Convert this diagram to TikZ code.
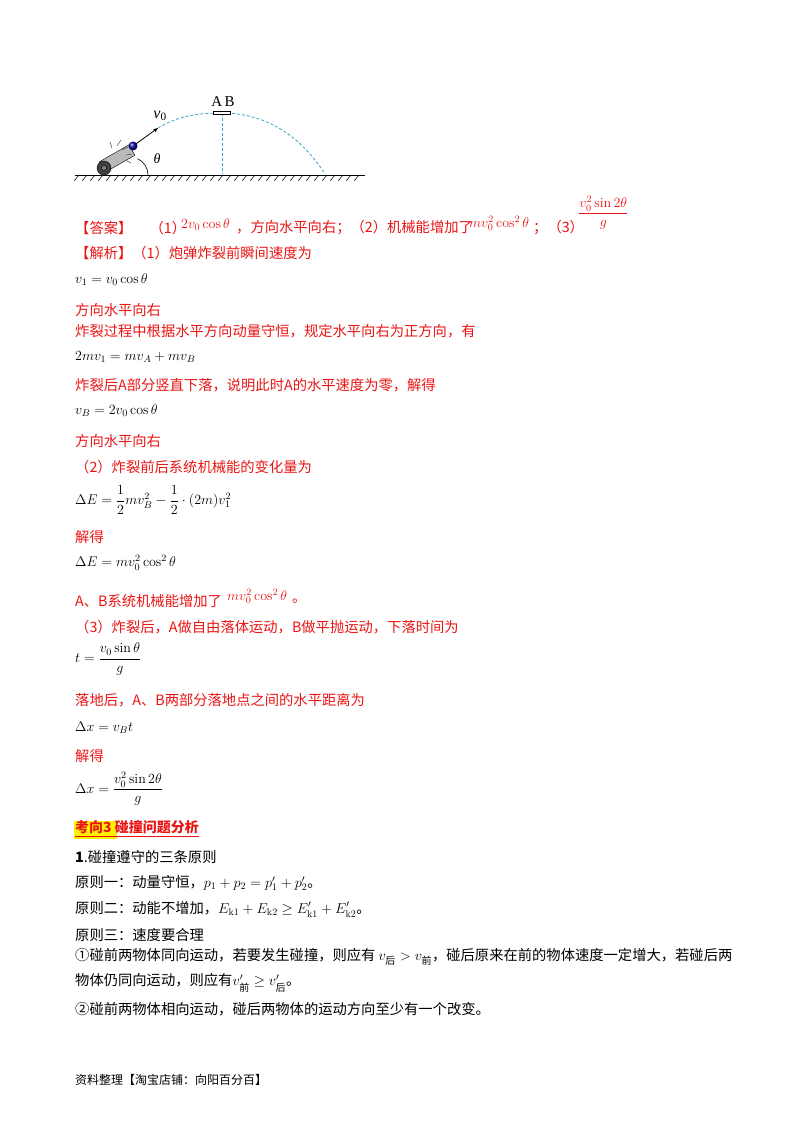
\RequirePackage{fix-cm}
\documentclass[tikz,border=0pt]{standalone}
\usepackage{fontspec}
\usepackage{amsmath}
\newfontfamily\cjk{Noto Sans CJK SC}
\newfontfamily\tnr{Liberation Serif}
\usetikzlibrary{arrows.meta}
\definecolor{ansred}{RGB}{235,20,20}
\definecolor{traj}{RGB}{60,160,200}
\begin{document}
\begin{tikzpicture}[x=1pt,y=-1pt,
  txt/.style={anchor=west,inner sep=0pt,font=\cjk\fontsize{14.3}{16}\selectfont},
  red/.style={txt,text=ansred},
  eq/.style={anchor=west,inner sep=0pt,font=\fontsize{14}{16}\selectfont},
  trajline/.style={traj,densely dashed,line width=0.8pt}]
\useasboundingbox (0,0) rectangle (800,1132);
% ---- figure ----
\draw[line width=0.8pt] (75,175) -- (365,175);
\foreach \i in {0,...,35} \draw[line width=0.5pt] (79+8*\i,175) -- (74+8*\i,181);
\coordinate (ball) at (133,146);
\coordinate (tip) at (158,128);
\coordinate (apex) at (222,113);
\coordinate (land) at (325,174);
\draw[trajline] (tip) .. controls (180,115) and (200,113) .. (apex);
\draw[trajline] (apex) .. controls (265,113) and (300,135) .. (land);
\draw[trajline] (apex) -- (222,174);
\node[draw,fill=white,minimum width=17pt,minimum height=3pt,inner sep=0pt,line width=0.6pt] (plate) at (apex) {};
\node[font=\tnr\fontsize{15}{15}\selectfont,anchor=south] (AB) at (223,110) {A\,B};
\draw[-{Stealth[length=5pt]},line width=0.8pt] (ball) -- (tip);
\node[font=\tnr\itshape\fontsize{16}{16}\selectfont] (v0) at (160,116) {v\textsubscript{\upshape 0}};
\draw[line width=0.6pt] (148,175) arc[start angle=0,end angle=65,radius=18pt];
\node[font=\tnr\itshape\fontsize{14}{14}\selectfont] (th) at (157,159) {θ};
% cannon
\draw[fill=gray!55,rotate around={30:(118,158)}] (100,152) rectangle (134,164);
\draw[fill=darkgray] (104,168) circle (7pt);
\draw[fill=gray] (104,168) circle (2.5pt);
\draw[gray!60!black,line width=0.5pt] (117,146) -- (121,140) (112,148) -- (110,142) (126,155) -- (132,154) (125,160) -- (131,163) (122,150) -- (128,147);
\shade[ball color=blue!60!black] (ball) circle (4.5pt);
% ---- text ----
\node[red] (ans) at (75,228) {【答案】\hspace{1.2em}（1）};
\node[eq,text=ansred,anchor=south west] at (181,231) {$2v_0\cos\theta$};
\node[red] at (236,228) {，方向水平向右；（2）机械能增加了};
\node[eq,text=ansred,anchor=south west] at (469,231) {$mv_0^2\cos^2\theta$};
\node[red] at (533,228) {；（3）};
\node[eq,text=ansred] at (578,213) {$\dfrac{v_0^2\sin 2\theta}{g}$};
\node[red] at (75,253) {【解析】（1）炮弹炸裂前瞬间速度为};
\node[eq] at (75,280) {$v_1=v_0\cos\theta$};
\node[red] at (75,310) {方向水平向右};
\node[red] at (75,331) {炸裂过程中根据水平方向动量守恒，规定水平向右为正方向，有};
\node[eq] at (75,357) {$2mv_1=mv_A+mv_B$};
\node[red] at (75,385) {炸裂后A部分竖直下落，说明此时A的水平速度为零，解得};
\node[eq] at (75,411) {$v_B=2v_0\cos\theta$};
\node[red] at (75,441) {方向水平向右};
\node[red] at (75,467) {（2）炸裂前后系统机械能的变化量为};
\node[eq] at (75,500) {$\Delta E=\dfrac12 mv_B^2-\dfrac12\cdot(2m)v_1^2$};
\node[red] at (75,537) {解得};
\node[eq] at (75,563) {$\Delta E=mv_0^2\cos^2\theta$};
\node[red] at (75,601) {A、B系统机械能增加了};
\node[eq,text=ansred,anchor=south west] at (227,604) {$mv_0^2\cos^2\theta$};
\node[red] at (292,601) {。};
\node[red] at (75,627) {（3）炸裂后，A做自由落体运动，B做平抛运动，下落时间为};
\node[eq] at (75,659) {$t=\dfrac{v_0\sin\theta}{g}$};
\node[red] at (75,700) {落地后，A、B两部分落地点之间的水平距离为};
\node[eq] at (75,728) {$\Delta x=v_Bt$};
\node[red] at (75,756) {解得};
\node[eq] at (75,789) {$\Delta x=\dfrac{v_0^2\sin 2\theta}{g}$};
\fill[yellow] (74,821) rectangle (117,839);
\node[red,font=\cjk\bfseries\fontsize{14}{16}\selectfont] (kx) at (75,829) {\underline{考向3\ 碰撞问题分析}};
\node[txt] at (75,857) {\textbf{1}.碰撞遵守的三条原则};
\node[txt] at (75,883) {原则一：动量守恒，$p_1+p_2=p_1'+p_2'$。};
\node[txt] at (75,909) {原则二：动能不增加，$E_{\mathrm{k1}}+E_{\mathrm{k2}}\geq E_{\mathrm{k1}}'+E_{\mathrm{k2}}'$。};
\node[txt] at (75,935) {原则三：速度要合理};
\node[txt] at (75,957) {①碰前两物体同向运动，若要发生碰撞，则应有 $v_{\text{\cjk 后}}>v_{\text{\cjk 前}}$，碰后原来在前的物体速度一定增大，若碰后两};
\node[txt] at (75,983) {物体仍同向运动，则应有$v_{\text{\cjk 前}}'\geq v_{\text{\cjk 后}}'$。};
\node[txt] at (75,1009) {②碰前两物体相向运动，碰后两物体的运动方向至少有一个改变。};
\node[txt,font=\cjk\fontsize{12}{14}\selectfont] at (75,1080) {资料整理【淘宝店铺：向阳百分百】};
\end{tikzpicture}
\end{document}
